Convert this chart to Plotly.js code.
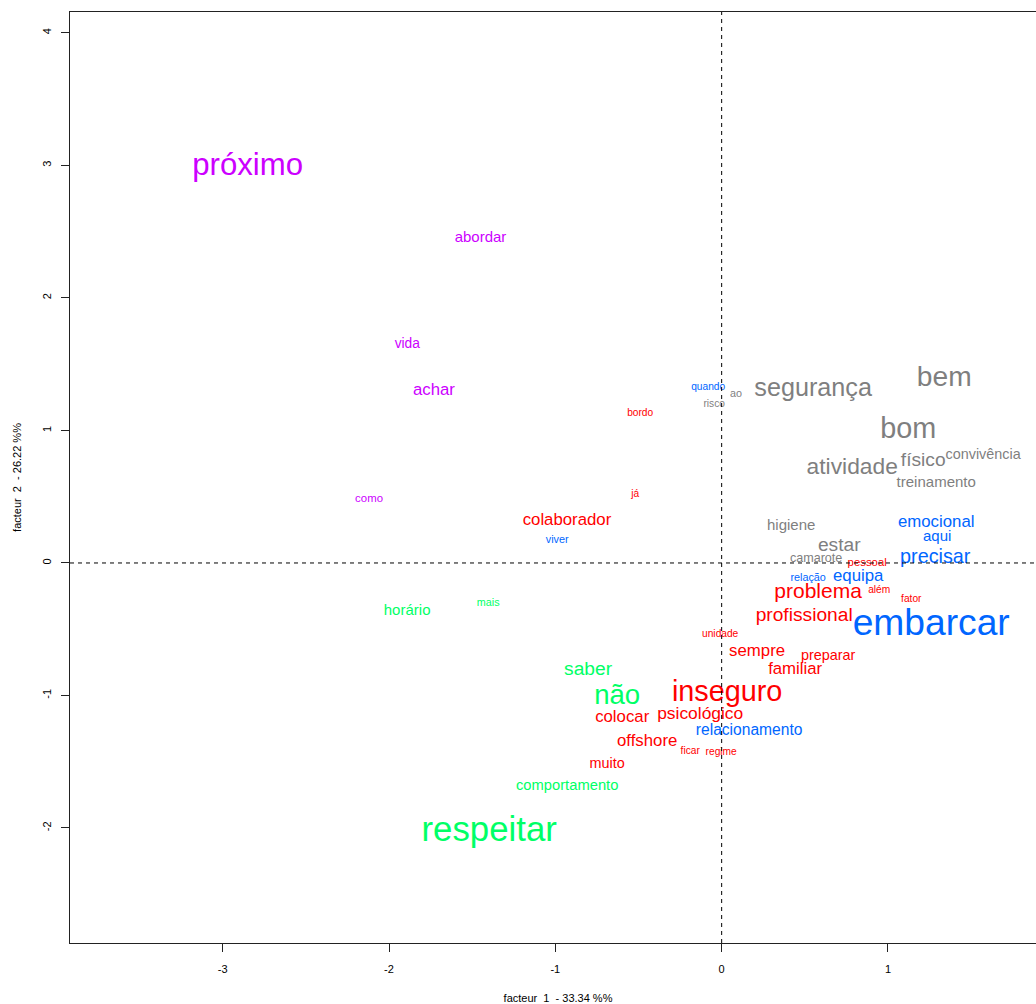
<!DOCTYPE html>
<html>
<head>
<meta charset="utf-8">
<script src="https://cdn.plot.ly/plotly-3.0.1.min.js"></script>
<style>
html, body { margin: 0; padding: 0; overflow: hidden; background: #fff; }
#chart { width: 1100px; height: 1004px; }
</style>
</head>
<body>
<div id="chart"></div>
<script>
// Axis ticks
const xTickVals = [-3, -2, -1, 0, 1];
const xTickText = ["-3", "-2", "-1", "0", "1"];
const yTickVals = [-2, -1, 0, 1, 2, 3, 4];
const yTickText = ["-2", "-1", "0", "1", "2", "3", "4"];

// Magenta class
const magWords = ["próximo", "abordar", "vida", "achar", "como"];
const magX = [-2.85, -1.45, -1.89, -1.73, -2.12];
const magY = [2.99, 2.45, 1.65, 1.30, 0.48];
const magCex = [2.6, 1.25, 1.15, 1.4, 0.95];

// Red class
const redWords = ["bordo", "já", "colaborador", "pessoal", "além", "fator", "problema", "profissional",
  "unidade", "sempre", "preparar", "familiar", "inseguro", "psicológico", "colocar", "offshore",
  "ficar", "regime", "muito"];
const redX = [-0.49, -0.52, -0.93, 0.875, 0.947, 1.14, 0.58, 0.496,
  -0.009, 0.213, 0.64, 0.442, 0.033, -0.129, -0.598, -0.448,
  -0.189, -0.003, -0.689];
const redY = [1.13, 0.52, 0.32, 0.0, -0.205, -0.272, -0.223, -0.403,
  -0.536, -0.668, -0.704, -0.81, -0.99, -1.143, -1.165, -1.346,
  -1.419, -1.427, -1.519];
const redCex = [0.85, 0.85, 1.4, 0.95, 0.85, 0.85, 1.75, 1.6,
  0.85, 1.4, 1.2, 1.4, 2.4, 1.45, 1.4, 1.4,
  0.85, 0.85, 1.2];

// Gray class
const grayWords = ["segurança", "ao", "risco", "bem", "bom", "atividade", "físico", "convivência",
  "treinamento", "higiene", "estar", "camarote"];
const grayX = [0.55, 0.087, -0.045, 1.338, 1.122, 0.785, 1.212, 1.572, 1.29, 0.418, 0.707, 0.568];
const grayY = [1.31, 1.275, 1.2, 1.39, 0.999, 0.716, 0.765, 0.813, 0.601, 0.277, 0.124, 0.03];
const grayCex = [2.1, 0.9, 0.85, 2.35, 2.4, 1.9, 1.6, 1.2, 1.25, 1.25, 1.6, 1.05];

// Blue class
const blueWords = ["quando", "emocional", "aqui", "precisar", "relação", "equipa", "embarcar", "viver", "relacionamento"];
const blueX = [-0.081, 1.29, 1.296, 1.284, 0.52, 0.821, 1.26, -0.989, 0.165];
const blueY = [1.328, 0.305, 0.194, 0.04, -0.113, -0.102, -0.47, 0.173, -1.27];
const blueCex = [0.85, 1.4, 1.25, 1.65, 0.9, 1.4, 3.1, 0.9, 1.3];

// Green class
const greenWords = ["horário", "mais", "saber", "não", "comportamento", "respeitar"];
const greenX = [-1.891, -1.404, -0.803, -0.628, -0.929, -1.398];
const greenY = [-0.365, -0.301, -0.812, -1.015, -1.685, -2.03];
const greenCex = [1.25, 0.9, 1.6, 2.3, 1.23, 2.9];

const baseSize = 12;
const fontFam = "Liberation Sans, Arial, sans-serif";

function mk(words, xs, ys, cex, color) {
  return {
    type: "scatter", mode: "text",
    x: xs, y: ys, text: words,
    textposition: "middle center",
    textfont: { family: fontFam, color: color, size: cex.map(c => c * baseSize) },
    hoverinfo: "text", showlegend: false, cliponaxis: false
  };
}

const data = [
  mk(magWords, magX, magY, magCex, "#CC00FF"),
  mk(redWords, redX, redY, redCex, "#FF0000"),
  mk(grayWords, grayX, grayY, grayCex, "#7F7F7F"),
  mk(blueWords, blueX, blueY, blueCex, "#0066FF"),
  mk(greenWords, greenX, greenY, greenCex, "#00FF66")
];

const axisCommon = {
  showgrid: false, zeroline: false,
  showline: true, mirror: true, linecolor: "#222", linewidth: 1,
  ticks: "outside", ticklen: 8, tickcolor: "#222", tickwidth: 1,
  tickfont: { family: fontFam, size: 11, color: "#000" },
  tickmode: "array"
};

const layout = {
  width: 1100, height: 1004,
  margin: { l: 70, r: 54, t: 12, b: 61 },
  paper_bgcolor: "#fff", plot_bgcolor: "#fff",
  xaxis: Object.assign({}, axisCommon, {
    range: [-3.918, 1.95],
    tickvals: xTickVals, ticktext: xTickText,
    ticklabelstandoff: 8,
    title: { text: "facteur  1  - 33.34 %%", font: { family: fontFam, size: 11, color: "#000" }, standoff: 20 }
  }),
  yaxis: Object.assign({}, axisCommon, {
    range: [-2.868, 4.158],
    tickvals: yTickVals, ticktext: yTickText,
    tickangle: -90,
    ticklabelstandoff: 6,
    title: { text: "facteur  2  - 26.22 %%", font: { family: fontFam, size: 11, color: "#000" }, standoff: 16 }
  }),
  shapes: [
    { type: "line", xref: "x", yref: "paper", x0: 0, x1: 0, y0: 0, y1: 1, line: { color: "#000", width: 1, dash: "4px,4px" } },
    { type: "line", xref: "paper", yref: "y", x0: 0, x1: 1, y0: 0, y1: 0, line: { color: "#000", width: 1, dash: "4px,4px" } }
  ]
};

Plotly.newPlot("chart", data, layout, { displayModeBar: false, staticPlot: true });
</script>
</body>
</html>
